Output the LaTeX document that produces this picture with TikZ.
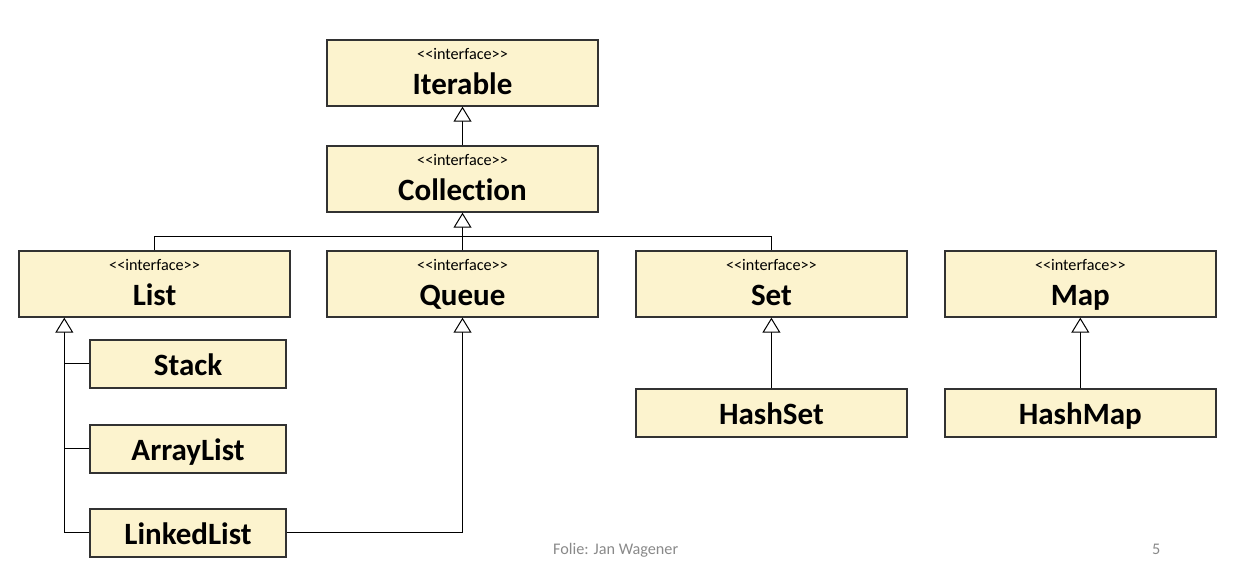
\documentclass[tikz,border=0pt]{standalone}
\usepackage{fontspec}
\setmainfont{Carlito}[Ligatures=NoCommon]
\usetikzlibrary{positioning,calc,arrows.meta}
\definecolor{BoxFill}{RGB}{252,243,206}
\definecolor{BoxLine}{RGB}{50,50,50}
\definecolor{FootGray}{RGB}{137,137,137}
\newcommand{\stereotype}{<\kern0pt<interface>\kern0pt>}
\tikzset{%
  iface/.style={%
    draw=BoxLine, fill=BoxFill, line width=1.4pt,
    minimum width=271pt, minimum height=66pt, inner sep=0pt,
    text height=44pt, text depth=0pt,
    font=\fontsize{31}{36}\selectfont\bfseries,
    label={[stereo]north:\stereotype}
  },
  stereo/.style={%
    anchor=north, inner sep=0pt, text height=20.5pt, text depth=0pt,
    font=\fontsize{16.2}{19}\selectfont
  },
  cls/.style={%
    draw=BoxLine, fill=BoxFill, line width=1.4pt,
    minimum width=196pt, minimum height=48pt, inner sep=0pt,
    text height=24pt, text depth=0pt,
    font=\fontsize{31}{36}\selectfont\bfseries
  },
  inherit/.style={line width=1pt,-{Triangle[open,length=15pt,width=18pt,fill=white]}},
  link/.style={line width=1pt},
  footer/.style={text=FootGray, anchor=base west, inner sep=0pt,
    font=\fontsize{16.2}{20}\selectfont},
}

\begin{document}
\begin{tikzpicture}[x=1pt, y=1pt, node distance=36.5pt]
        \useasboundingbox (0,0) rectangle (1245,562);

        % interfaces
        \node (ITERABLE)[iface] at (462.5,489) {Iterable};
        \node (COLLECTION)[iface, below=38.6pt of ITERABLE] {Collection};
        \node (QUEUE)[iface, below=37.6pt of COLLECTION] {Queue};
        \node (LIST)[iface, left=35.6pt of QUEUE] {List};
        \node (SET)[iface, right=of QUEUE] {Set};
        \node (MAP)[iface, right=of SET] {Map};

        % classes
        \node (STACK)[cls, anchor=north west] at ([xshift=71pt,yshift=-21.6pt]LIST.south west) {Stack};
        \node (ARRAYLIST)[cls, below=35.6pt of STACK] {ArrayList};
        \node (LINKEDLIST)[cls, below=34.6pt of ARRAYLIST] {LinkedList};
        \node (HASHSET)[cls, minimum width=271pt, below=70.6pt of SET] {HashSet};
        \node (HASHMAP)[cls, minimum width=271pt, below=70.6pt of MAP] {HashMap};

        \coordinate (FORK) at ([yshift=14pt]QUEUE.north);
        \coordinate (SPINE) at ([xshift=46pt]LIST.south west);

        \path[inherit]
            (COLLECTION) edge (ITERABLE)
            (QUEUE.north) edge (COLLECTION.south)
            (HASHSET) edge (SET)
            (HASHMAP) edge (MAP)
        ;
        \draw[link] (LIST.north) |- (FORK) -| (SET.north);
        \draw[inherit] (LINKEDLIST.west) -| (SPINE);
        \draw[inherit] (LINKEDLIST.east) -| (QUEUE.south);
        \draw[link] (STACK.west) -- (STACK.west -| SPINE);
        \draw[link] (ARRAYLIST.west) -- (ARRAYLIST.west -| SPINE);

        % footer
        \node (FOLIE)[footer] at (553,7) {Folie: Jan Wagener};
        \node (PAGE)[footer] at (1152,7) {5};
    \end{tikzpicture}
\end{document}
